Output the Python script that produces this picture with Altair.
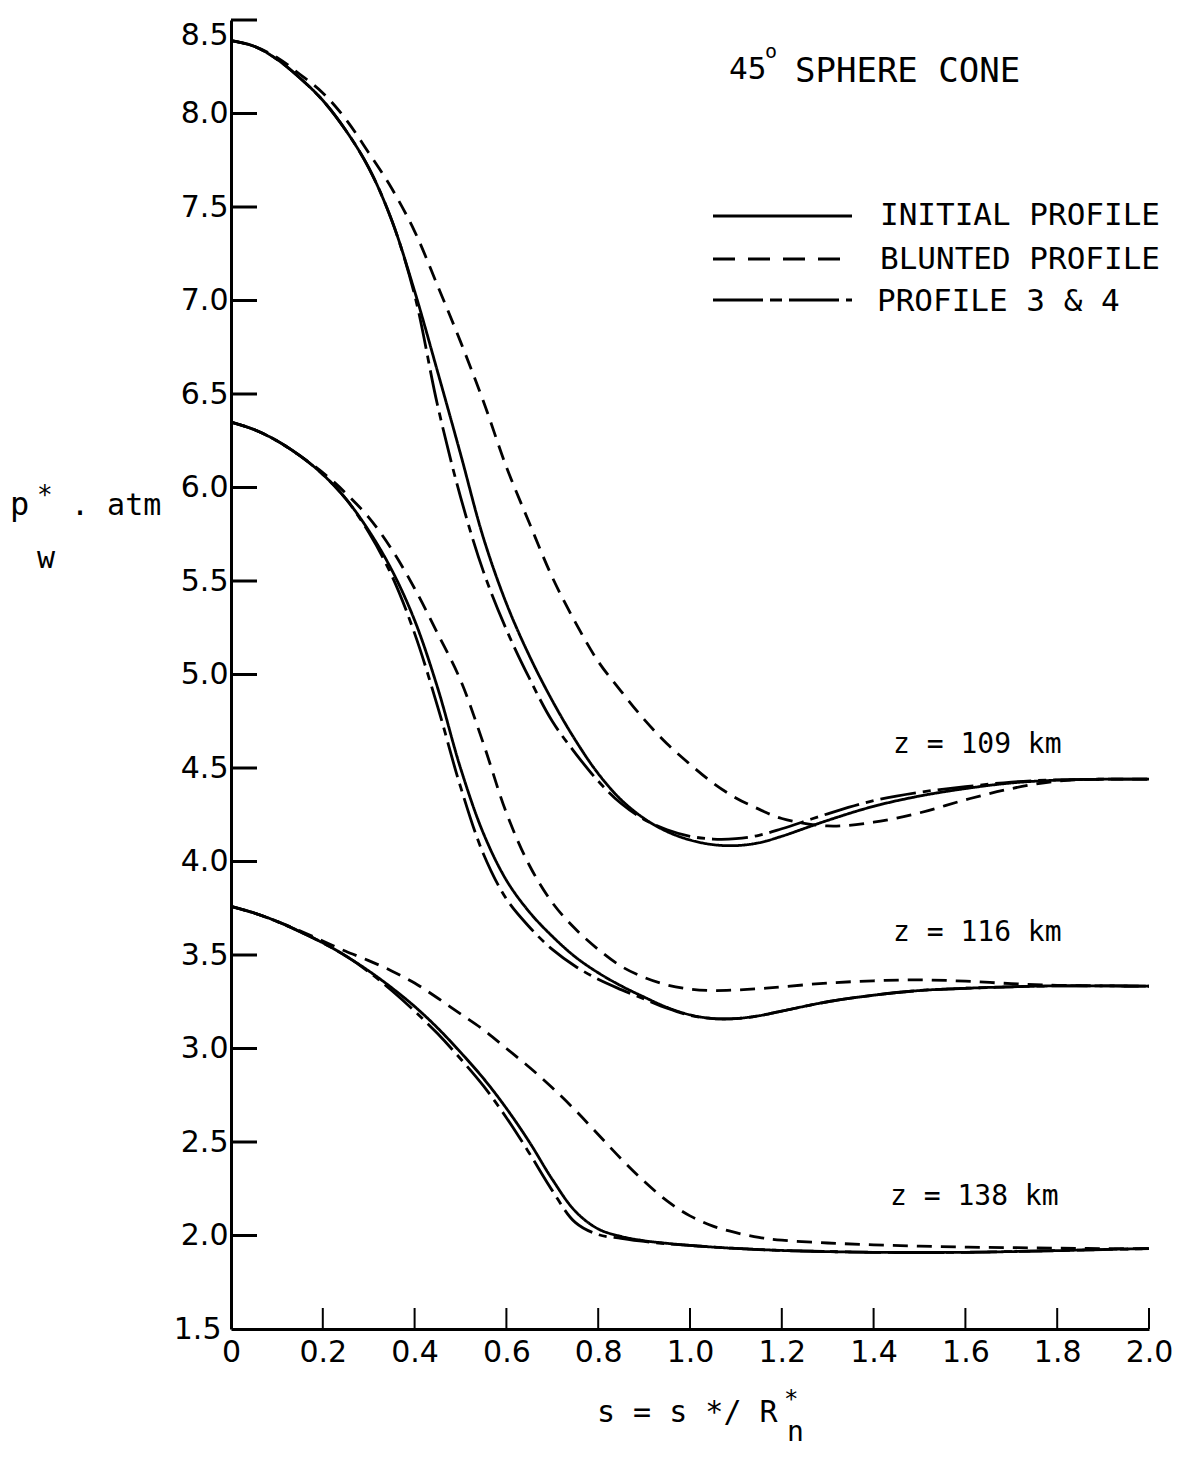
import altair as alt
import pandas as pd

# ---------------- data ----------------
S = [0, 0.05, 0.1, 0.15, 0.2, 0.25, 0.3, 0.35, 0.4, 0.45, 0.5, 0.55, 0.6, 0.65,
     0.7, 0.75, 0.8, 0.85, 0.9, 0.95, 1.0, 1.05, 1.1, 1.15, 1.2, 1.3, 1.4, 1.5,
     1.6, 1.7, 1.8, 1.9, 2.0]

P109_INITIAL = [8.39, 8.36, 8.29, 8.19, 8.07, 7.91, 7.71, 7.43, 7.05, 6.62, 6.18, 5.73,
                5.38, 5.10, 4.86, 4.65, 4.47, 4.33, 4.23, 4.16, 4.115, 4.09, 4.085, 4.10,
                4.135, 4.22, 4.295, 4.35, 4.39, 4.42, 4.435, 4.44, 4.44]
P109_BLUNTED = [8.39, 8.36, 8.30, 8.21, 8.11, 7.97, 7.79, 7.60, 7.37, 7.08, 6.78, 6.46,
                6.11, 5.81, 5.52, 5.28, 5.07, 4.91, 4.76, 4.63, 4.52, 4.42, 4.34, 4.28,
                4.23, 4.19, 4.21, 4.26, 4.33, 4.39, 4.43, 4.44, 4.44]
P109_P34 = [8.39, 8.36, 8.29, 8.19, 8.07, 7.91, 7.71, 7.43, 7.03, 6.44, 5.95, 5.55,
            5.24, 4.98, 4.75, 4.58, 4.43, 4.31, 4.225, 4.17, 4.135, 4.12, 4.122, 4.14,
            4.175, 4.255, 4.325, 4.37, 4.40, 4.425, 4.437, 4.44, 4.44]

P116_INITIAL = [6.35, 6.31, 6.25, 6.17, 6.07, 5.94, 5.77, 5.56, 5.29, 4.93, 4.50, 4.15,
                3.90, 3.73, 3.60, 3.49, 3.405, 3.335, 3.275, 3.22, 3.18, 3.16, 3.16, 3.175,
                3.20, 3.25, 3.285, 3.31, 3.322, 3.33, 3.335, 3.335, 3.333]
P116_BLUNTED = [6.35, 6.31, 6.25, 6.17, 6.08, 5.97, 5.84, 5.67, 5.46, 5.22, 4.97, 4.63,
                4.26, 3.98, 3.78, 3.64, 3.53, 3.44, 3.38, 3.34, 3.318, 3.31, 3.313, 3.32,
                3.33, 3.35, 3.362, 3.367, 3.36, 3.347, 3.338, 3.335, 3.333]
P116_P34 = [6.35, 6.31, 6.25, 6.17, 6.07, 5.94, 5.76, 5.53, 5.22, 4.83, 4.40, 4.04,
            3.80, 3.65, 3.53, 3.44, 3.37, 3.315, 3.265, 3.215, 3.177, 3.16, 3.16, 3.175,
            3.20, 3.25, 3.285, 3.31, 3.322, 3.33, 3.335, 3.335, 3.333]

P138_INITIAL = [3.76, 3.725, 3.68, 3.625, 3.565, 3.495, 3.415, 3.325, 3.225, 3.11, 2.98,
                2.84, 2.68, 2.50, 2.30, 2.13, 2.035, 1.995, 1.972, 1.958, 1.947, 1.938,
                1.931, 1.925, 1.92, 1.914, 1.91, 1.909, 1.91, 1.914, 1.919, 1.925, 1.93]
P138_BLUNTED = [3.76, 3.725, 3.68, 3.63, 3.575, 3.52, 3.47, 3.415, 3.35, 3.27, 3.185,
                3.10, 3.00, 2.90, 2.79, 2.67, 2.54, 2.41, 2.29, 2.185, 2.105, 2.05, 2.015,
                1.99, 1.975, 1.96, 1.95, 1.943, 1.938, 1.935, 1.932, 1.93, 1.93]
P138_P34 = [3.76, 3.725, 3.68, 3.625, 3.565, 3.495, 3.41, 3.31, 3.20, 3.08, 2.945,
            2.80, 2.63, 2.44, 2.24, 2.07, 2.005, 1.985, 1.968, 1.956, 1.947, 1.938,
            1.931, 1.925, 1.92, 1.914, 1.91, 1.909, 1.91, 1.914, 1.919, 1.925, 1.93]

PROFILES = ["INITIAL PROFILE", "BLUNTED PROFILE", "PROFILE 3 & 4"]
ALTITUDES = ["z = 109 km", "z = 116 km", "z = 138 km"]

X_TICKS = [0, 0.2, 0.4, 0.6, 0.8, 1.0, 1.2, 1.4, 1.6, 1.8, 2.0]
Y_TICKS = [1.5, 2.0, 2.5, 3.0, 3.5, 4.0, 4.5, 5.0, 5.5, 6.0, 6.5, 7.0, 7.5, 8.0, 8.5]

SERIES = [
    (ALTITUDES[0], PROFILES[0], P109_INITIAL),
    (ALTITUDES[0], PROFILES[1], P109_BLUNTED),
    (ALTITUDES[0], PROFILES[2], P109_P34),
    (ALTITUDES[1], PROFILES[0], P116_INITIAL),
    (ALTITUDES[1], PROFILES[1], P116_BLUNTED),
    (ALTITUDES[1], PROFILES[2], P116_P34),
    (ALTITUDES[2], PROFILES[0], P138_INITIAL),
    (ALTITUDES[2], PROFILES[1], P138_BLUNTED),
    (ALTITUDES[2], PROFILES[2], P138_P34),
]

rows = []
for z, prof, vals in SERIES:
    for s, p in zip(S, vals):
        rows.append({"s": s, "p": p, "z": z, "profile": prof})
df = pd.DataFrame(rows)

# ---------------- styling ----------------
W, H = 918, 1309
SANS = "DejaVu Sans"
MONO = "DejaVu Sans Mono"
DASH_SOLID = [1, 0]
DASH_BLUNT = [15, 9]
DASH_P34 = [36, 7, 8, 7]

xs = alt.Scale(domain=[0, 2], nice=False, zero=False)
ys = alt.Scale(domain=[1.5, 8.5], nice=False, zero=False)

axis_common = dict(domain=True, domainColor="black", domainWidth=3, ticks=False,
                   tickSize=0, grid=False, labelFont=SANS, labelColor="black",
                   labelFontSize=30, labelOverlap=False, labelFlush=False, title=None)

lines = alt.Chart(df).mark_line(color="black", strokeWidth=2.8,
                                interpolate="catmull-rom").encode(
    x=alt.X("s:Q", scale=xs,
            axis=alt.Axis(values=X_TICKS, labelPadding=8, labelBaseline="top",
                          labelExpr="datum.value == 0 ? '0' : format(datum.value, '.1f')",
                          **axis_common)),
    y=alt.Y("p:Q", scale=ys,
            axis=alt.Axis(values=Y_TICKS,
                          labelPadding=alt.condition("datum.value == 1.5",
                                                     alt.value(10), alt.value(3)),
                          labelBaseline=alt.condition("datum.value == 8.5",
                                                      alt.value("top"), alt.value("middle")),
                          labelExpr="format(datum.value, '.1f')", **axis_common)),
    strokeDash=alt.StrokeDash("profile:N",
                              scale=alt.Scale(domain=PROFILES,
                                              range=[DASH_SOLID, DASH_BLUNT, DASH_P34]),
                              legend=None),
    detail="z:N",
)

ytick_df = pd.DataFrame({"s": [0.0] * (len(Y_TICKS) - 1), "p": Y_TICKS[1:]})
xtick_df = pd.DataFrame({"s": X_TICKS[1:], "p": [1.5] * (len(X_TICKS) - 1)})

yticks = alt.Chart(ytick_df).mark_rule(color="black", strokeWidth=3).encode(
    y=alt.Y("p:Q", scale=ys), x=alt.value(0), x2=alt.value(26))
xticks = alt.Chart(xtick_df).mark_rule(color="black", strokeWidth=2).encode(
    x=alt.X("s:Q", scale=xs), y=alt.value(H), y2=alt.value(H - 21))

one = pd.DataFrame({"k": [0]})


def label(text, x, y, size, font=MONO, baseline="middle", align="left"):
    return alt.Chart(one).mark_text(text=text, font=font, fontSize=size, color="black",
                                    align=align, baseline=baseline).encode(
        x=alt.value(x), y=alt.value(y))


def legend_line(y, dash):
    return alt.Chart(one).mark_rule(color="black", strokeWidth=2.8, strokeDash=dash).encode(
        x=alt.value(482), x2=alt.value(621), y=alt.value(y))


annotations = [
    # title
    label("45", 498, 50, 31),
    label("o", 534, 32, 20),
    label("SPHERE CONE", 564, 52, 34),
    # legend
    legend_line(196, DASH_SOLID),
    legend_line(239, [22, 13]),
    legend_line(280, [50, 7, 12, 7]),
    label(PROFILES[0], 649, 196, 31),
    label(PROFILES[1], 649, 240, 31),
    label("PROFILE 3  & 4", 646, 282, 31),
    # curve labels
    label(ALTITUDES[0], 662, 725, 28),
    label(ALTITUDES[1], 662, 913, 28),
    label(ALTITUDES[2], 659, 1177, 28),
    # y-axis title  p*_w . atm
    label("p", -221, 495, 32, baseline="alphabetic"),
    label("*", -194, 476, 26),
    label("w", -194, 548, 30, baseline="alphabetic"),
    label(". atm", -160, 495, 30, baseline="alphabetic"),
    # x-axis title  s = s*/R*_n
    label("s = s */ R", 366, 1393, 30),
    label("*", 553, 1380, 24),
    label("n", 556, 1413, 28),
]

chart = alt.layer(lines, yticks, xticks, *annotations).properties(
    width=W, height=H,
    padding={"left": 223, "top": 12, "right": 40, "bottom": 119},
    autosize=alt.AutoSizeParams(type="none"),
    background="white",
).configure_view(stroke="transparent")

chart.save("out.html", embed_options={"renderer": "svg", "actions": False})
